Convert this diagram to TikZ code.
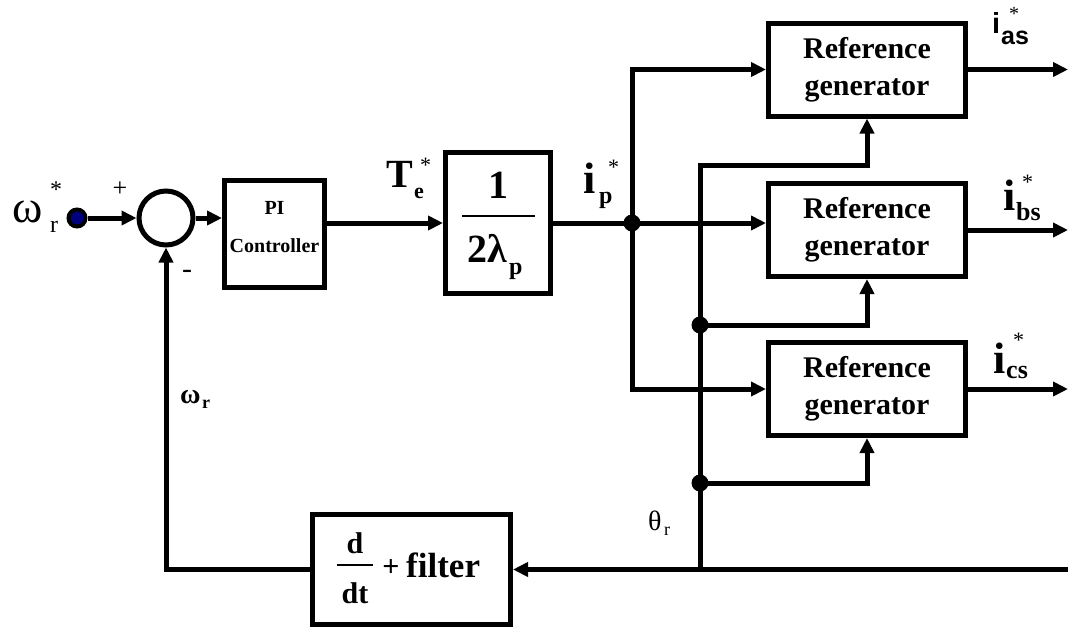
\documentclass[tikz,border=0pt]{standalone}
\usepackage{fontspec}
\setmainfont{Liberation Serif}
\newfontfamily\sansf{Liberation Sans}
\usetikzlibrary{arrows.meta}
\definecolor{navyin}{RGB}{0,0,128}
\newcommand\fsz[1]{\fontsize{#1}{#1}\selectfont}
\begin{document}
\begin{tikzpicture}[x=1pt,y=-1pt,
  wire/.style={line width=5pt},
  arr/.style={line width=5pt,-{Triangle[length=15pt,width=14pt]}},
  blk/.style={draw,line width=5pt,inner sep=0pt,rectangle},
  jdot/.style={circle,fill,inner sep=0pt,minimum size=17pt},
  txt/.style={inner sep=0pt,anchor=base west},
  rg/.style={blk,minimum width=197pt,minimum height=93pt,align=center,font=\fontsize{30}{37}\selectfont\bfseries}
]
\useasboundingbox (0,0) rectangle (1068,630);
\fill[white] (0,0) rectangle (1068,630);

% blocks
\node[circle,draw,line width=5pt,minimum size=54pt,inner sep=0pt] (sum) at (166,218) {};
\node[circle,draw,line width=4pt,fill=navyin,minimum size=17pt,inner sep=0pt] (in) at (77,218) {};
\node[blk,minimum width=100pt,minimum height=107pt] (PI) at (274.5,234) {};
\node[inner sep=0pt,align=center,font=\fontsize{20}{38}\selectfont\bfseries] (PIt) at (274.5,227) {PI\\Controller};
\node[blk,minimum width=105pt,minimum height=141pt] (G) at (498,223) {};
\node[txt,anchor=base,font=\fsz{40}\bfseries] (G1) at (498,198) {1};
\draw[line width=2.5pt] (462,216) -- (535,216);
\node[txt,font=\fsz{40}\bfseries] (G2) at (467,262) {2λ};
\node[txt,font=\fsz{24}\bfseries] (G3) at (509,274) {p};

\node[rg] (RG1) at (867,69.5) {Reference\\generator};
\node[rg] (RG2) at (867,230) {Reference\\generator};
\node[rg] (RG3) at (867,389) {Reference\\generator};

\node[blk,minimum width=198pt,minimum height=110pt] (F) at (411.5,569.5) {};
\node[txt,anchor=base,font=\fsz{30}\bfseries] (Fd) at (355,553) {d};
\draw[line width=2pt] (337,565) -- (373,565);
\node[txt,anchor=base,font=\fsz{30}\bfseries] (Fdt) at (355,603) {dt};
\node[txt,anchor=base,font=\fsz{30}\bfseries] (Fp) at (391,576) {+};
\node[txt,font=\fsz{35}\bfseries] (Ff) at (406,577) {filter};

% coordinates
\coordinate (J) at (632,223);
\coordinate (T1) at (700,165);
\coordinate (D2) at (700,325);
\coordinate (D3) at (700,483);
\coordinate (T0) at (700,569.5);
\coordinate (R) at (1068,569.5);
\coordinate (E) at (1068,0);

% wires
\draw[arr] (in) -- (sum);
\draw[arr] (sum.east) -- (sum.east -| PI.west);
\draw[arr] (PI.east |- J) -- (G.west |- J);
\draw[wire] (G.east |- J) -- (J);
\draw[arr] (J) -- (J -| RG2.west);
\draw[arr] (J) |- (RG1.west);
\draw[arr] (J) |- (RG3.west);
\draw[arr] (T0) -- (T1) -| (RG1.south);
\draw[arr] (D2) -| (RG2.south);
\draw[arr] (D3) -| (RG3.south);
\draw[arr] (R) -- (R -| F.east);
\draw[arr] (F.west) -| (sum.south);
\draw[arr] (RG1.east) -- (RG1.east -| E);
\draw[arr] (RG2.east) -- (RG2.east -| E);
\draw[arr] (RG3.east) -- (RG3.east -| E);
\node[jdot] (Jd) at (J) {};
\node[jdot] (D2d) at (D2) {};
\node[jdot] (D3d) at (D3) {};

% labels
\node[txt,font=\fsz{46}] (wr) at (12,222) {ω};
\node[txt,font=\fsz{24}] (wrs) at (50,232) {r};
\node[txt,font=\fsz{24}] (wra) at (50,197) {*};
\node[txt,anchor=base,font=\fsz{26}] (plus) at (120,196) {+};
\node[txt,anchor=base,font=\fsz{30}] (minus) at (187,278) {-};

\node[txt,font=\fsz{40}\bfseries] (Te) at (386,187) {T};
\node[txt,font=\fsz{22}\bfseries] (Tes) at (414,198) {e};
\node[txt,font=\fsz{22}] (Tea) at (420,172) {*};

\node[txt,font=\fsz{44}\bfseries] (ip) at (583,193) {i};
\node[txt,font=\fsz{24}\bfseries] (ips) at (599,203) {p};
\node[txt,font=\fsz{22}] (ipa) at (608,174) {*};

\node[txt,font=\sansf\fsz{29}\bfseries] (ia) at (992,33) {i};
\node[txt,font=\sansf\fsz{25}\bfseries] (ias) at (1001,44) {as};
\node[txt,font=\fsz{20}] (iaa) at (1009,20) {*};

\node[txt,font=\fsz{44}\bfseries] (ib) at (1003,210) {i};
\node[txt,font=\fsz{26}\bfseries] (ibs) at (1016,220) {bs};
\node[txt,font=\fsz{22}] (iba) at (1022,189) {*};

\node[txt,font=\fsz{44}\bfseries] (ic) at (993,373) {i};
\node[txt,font=\fsz{26}\bfseries] (ics) at (1006,378) {cs};
\node[txt,font=\fsz{22}] (ica) at (1013,347) {*};

\node[txt,font=\fsz{28}\bfseries] (wl) at (180,403) {ω};
\node[txt,font=\fsz{18}\bfseries] (wls) at (202,408) {r};

\node[txt,font=\fsz{28}] (th) at (648,530) {θ};
\node[txt,font=\fsz{18}] (ths) at (664,535) {r};
\end{tikzpicture}
\end{document}
